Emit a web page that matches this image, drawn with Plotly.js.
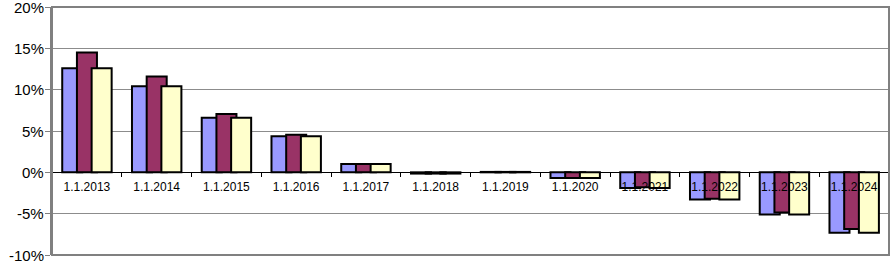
<!DOCTYPE html>
<html>
<head>
<meta charset="utf-8">
<script src="https://cdn.plot.ly/plotly-3.0.1.min.js"></script>
<style>
  html, body { margin: 0; padding: 0; background: #fff; }
  #chart { width: 891px; height: 262px; }
</style>
</head>
<body>
<div id="chart"></div>
<script>
const categories = ['1.1.2013','1.1.2014','1.1.2015','1.1.2016','1.1.2017','1.1.2018',
                    '1.1.2019','1.1.2020','1.1.2021','1.1.2022','1.1.2023','1.1.2024'];
const seriesA = [12.6, 10.4, 6.6, 4.35, 1.0, -0.15, 0.05, -0.7, -1.9, -3.3, -5.1, -7.3];
const seriesB = [14.5, 11.6, 7.05, 4.55, 1.0, -0.15, 0.05, -0.7, -1.8, -3.2, -4.85, -6.85];
const seriesC = [12.6, 10.4, 6.6, 4.35, 1.0, -0.15, 0.05, -0.7, -1.9, -3.3, -5.1, -7.3];
const yTicks = [-10, -5, 0, 5, 10, 15, 20];
const yTickLabels = ['-10%', '-5%', '0%', '5%', '10%', '15%', '20%'];

const barW = 0.287;
const step = 0.2108;
const start = -0.3534;
const colors = ['#9999FF', '#993366', '#FFFFCC'];
const allSeries = [seriesA, seriesB, seriesC];

const traces = allSeries.map((vals, i) => ({
  type: 'bar',
  x: categories,
  y: vals,
  width: barW,
  offset: start + i * step,
  marker: { color: colors[i], line: { color: '#000000', width: 2 } },
  hoverinfo: 'skip',
  showlegend: false
}));

const yLabelAnnotations = yTicks.map((v, i) => ({
  xref: 'paper', yref: 'y',
  x: 0, y: v,
  text: yTickLabels[i],
  showarrow: false,
  xanchor: 'right', yanchor: 'middle',
  xshift: -6,
  font: { size: 15, color: '#000000', family: 'Liberation Sans, Arial, sans-serif' }
}));

const layout = {
  width: 891,
  height: 262,
  margin: { l: 52, r: 2, t: 7, b: 7 },
  paper_bgcolor: '#ffffff',
  plot_bgcolor: '#ffffff',
  barmode: 'overlay',
  font: { family: 'Liberation Sans, Arial, sans-serif', color: '#000000' },
  xaxis: {
    type: 'category',
    anchor: 'free',
    position: 1 / 3,
    showline: true,
    linecolor: '#000000',
    linewidth: 1,
    ticks: 'outside',
    tickson: 'boundaries',
    ticklen: 4,
    tickcolor: '#000000',
    ticklabelstandoff: 3,
    tickfont: { size: 12, color: '#000000' },
    showgrid: false,
    zeroline: false,
    fixedrange: true
  },
  yaxis: {
    range: [-10, 20],
    tickvals: yTicks,
    showticklabels: false,
    showline: true,
    linecolor: '#808080',
    linewidth: 2,
    ticks: 'outside',
    ticklen: 5,
    tickcolor: '#808080',
    showgrid: true,
    gridcolor: '#8c8c8c',
    gridwidth: 1,
    zeroline: false,
    fixedrange: true
  },
  annotations: yLabelAnnotations,
  shapes: [{
    type: 'rect', xref: 'paper', yref: 'paper',
    x0: 0, x1: 1, y0: 0, y1: 1,
    line: { color: '#808080', width: 2 },
    layer: 'above'
  }]
};

Plotly.newPlot('chart', traces, layout, { staticPlot: true, displayModeBar: false });
</script>
</body>
</html>
